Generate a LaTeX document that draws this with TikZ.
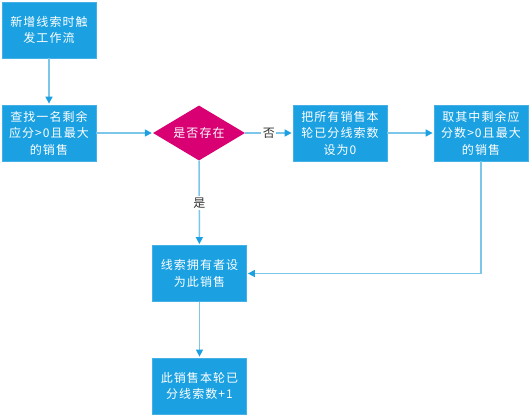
\documentclass[tikz,border=0pt]{standalone}
\usepackage{fontspec}
\newfontfamily\cjk[LetterSpace=9]{Noto Sans CJK SC}
\usepackage{tikz}
\usetikzlibrary{shapes.geometric,arrows.meta}
\definecolor{boxblue}{HTML}{1BA1E2}
\definecolor{boxedge}{HTML}{45B0E6}
\definecolor{linkblue}{HTML}{7CC6EA}
\definecolor{decpink}{HTML}{D80073}
\tikzset{
  flowbox/.style={draw=boxedge, fill=boxblue, line width=0.8pt, text=white,
    minimum width=94pt, minimum height=56pt, inner sep=0pt, align=center,
    font=\cjk\fontsize{12}{16.5}\selectfont},
  decision/.style={diamond, fill=decpink, text=white, shape aspect=1.7,
    minimum width=92pt, minimum height=55pt, inner sep=0pt,
    font=\cjk\fontsize{12}{16}\selectfont},
  link/.style={draw=linkblue, line width=1.5pt, shorten >=1pt,
    -{Triangle[length=7pt,width=7pt,color=boxblue]}},
  tag/.style={fill=white, text=black!80, inner sep=1.5pt,
    font=\cjk\fontsize{12}{14}\selectfont}
}
\begin{document}
\begin{tikzpicture}[x=1pt, y=-1pt]
    % Canvas
    \useasboundingbox[fill=white] (0,0) rectangle (530,416);

    % Boxes
    \node[flowbox] (start) at (49,30) {新增线索时触\\发工作流};
    \node[flowbox] (find) at (49,133) {查找一名剩余\\应分>0且最大\\的销售};
    \node[decision] (exist) at (199,133) {是否存在};
    \node[flowbox] (reset) at (340,133) {把所有销售本\\轮已分线索数\\设为0};
    \node[flowbox] (pick) at (481,133) {取其中剩余应\\分数>0且最大\\的销售};
    \node[flowbox] (owner) at (199.5,273.5) {线索拥有者设\\为此销售};
    \node[flowbox] (count) at (199.5,386) {此销售本轮已\\分线索数+1};

    % Connectors
    \draw[link] (start) -- (find);
    \draw[link] (find) -- (exist);
    \draw[link] (exist) -- node[tag] {否} (reset);
    \draw[link] (reset) -- (pick);
    \draw[link] (pick.south) |- (owner.east);
    \draw[link] (exist) -- node[tag] {是} (owner);
    \draw[link] (owner) -- (count);
\end{tikzpicture}
\end{document}
